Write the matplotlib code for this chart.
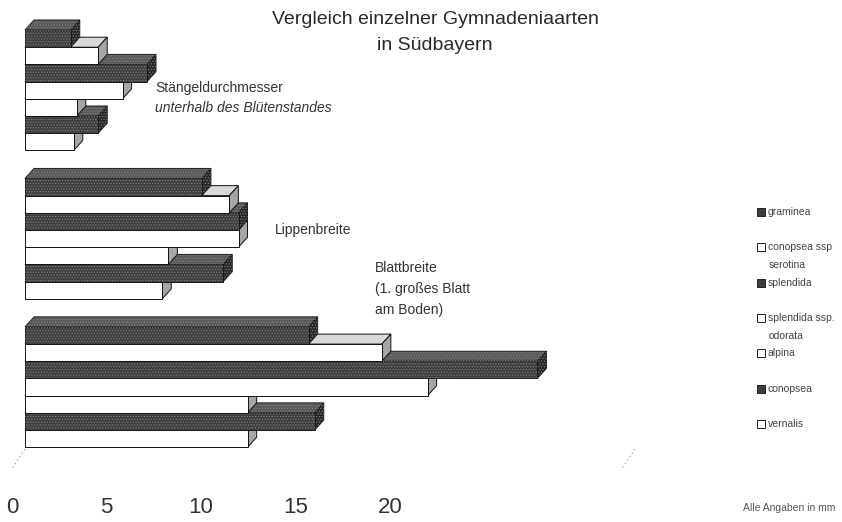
import matplotlib
matplotlib.use("Agg")
import matplotlib.pyplot as plt
from matplotlib.patches import Polygon, Rectangle

# ---- data (mm)
categories = ["Stängeldurchmesser", "Lippenbreite", "Blattbreite"]
species = ["graminea", "conopsea ssp\nserotina", "splendida",
           "splendida ssp.\nodorata", "alpina", "conopsea", "vernalis"]
dark = [True, False, True, False, False, True, False]
stem_diam = [1.5, 2.4, 4.0, 3.2, 1.7, 2.4, 1.6]
lip_width = [5.8, 6.7, 7.0, 7.0, 4.7, 6.5, 4.5]
leaf_width = [9.3, 11.7, 16.8, 13.2, 7.3, 9.5, 7.3]
tick_values = [0, 5, 10, 15, 20]

W, H = 842, 522
plt.rcParams['font.family'] = ['Liberation Sans', 'DejaVu Sans']
plt.rcParams['hatch.linewidth'] = 0.6
fig = plt.figure(figsize=(W / 100, H / 100), dpi=100)

# main plotting area: x 0..20 mm, y in "bar heights", inverted
ax = fig.add_axes([25 / W, (H - 468.6) / H, 610 / W, 455.8 / H])
ax.set_xlim(0, 20)
ax.set_ylim(25.5, -1)
ax.axis("off")

px_x = 610 / 20.0   # pixels per mm
px_y = 455.8 / 26.5  # pixels per bar unit
ddx = 9 / px_x       # 3D depth offset
ddy = 10 / px_y
pitch = 8.63         # distance between groups (bar units)

styles = {
    True: dict(front="#3e3e3e", top="#5a5a5a", side="#262626",
               edge="#1a1a1a", hatch="#7c7c7c"),
    False: dict(front="#ffffff", top="#d9d9d9", side="#a6a6a6",
                edge="#111111", hatch=None),
}


def face(pts, fc, st, zo):
    ax.add_patch(Polygon(pts, closed=True, fc=fc, ec=st["edge"], lw=0.7,
                         zorder=zo, clip_on=False))
    if st["hatch"]:
        ax.add_patch(Polygon(pts, closed=True, fill=False, ec=st["hatch"],
                             lw=0, hatch="......", zorder=zo + 0.01,
                             clip_on=False))


z = 1
for g, vals in enumerate([stem_diam, lip_width, leaf_width]):
    for s in range(len(vals) - 1, -1, -1):
        v = vals[s]
        st = styles[dark[s]]
        y0 = g * pitch + s
        y1 = y0 + 1
        face([(0, y0), (v, y0), (v + ddx, y0 - ddy), (ddx, y0 - ddy)],
             st["top"], st, z)
        face([(v, y0), (v, y1), (v + ddx, y1 - ddy), (v + ddx, y0 - ddy)],
             st["side"], st, z)
        ax.barh(y0 + 0.5, v, height=1, left=0, color=st["front"],
                edgecolor=st["edge"], linewidth=0.7, zorder=z + 0.5,
                clip_on=False)
        if st["hatch"]:
            ax.barh(y0 + 0.5, v, height=1, left=0, fill=False,
                    edgecolor=st["hatch"], linewidth=0, hatch="......",
                    zorder=z + 0.51, clip_on=False)
        z += 1

# faint floor edges
ybase = 2 * pitch + 7
for xv in (0, 20):
    ax.plot([xv, xv - 0.45], [ybase + 0.1, ybase + 1.3],
            color="#999999", lw=0.6, ls=(0, (2, 3)), clip_on=False)

# category labels
lab_kw = dict(fontsize=10, color="#333333")
fig.text(155 / W, 1 - 88 / H, "Stängeldurchmesser", va="center", **lab_kw)
fig.text(155 / W, 1 - 108 / H, "unterhalb des Blütenstandes", va="center",
         style="italic", **lab_kw)
fig.text(275 / W, 1 - 230 / H, "Lippenbreite", va="center", **lab_kw)
fig.text(375 / W, 1 - 268 / H, "Blattbreite", va="center", **lab_kw)
fig.text(375 / W, 1 - 289 / H, "(1. großes Blatt", va="center", **lab_kw)
fig.text(375 / W, 1 - 310 / H, "am Boden)", va="center", **lab_kw)

# title
fig.text(435 / W, 1 - 19 / H, "Vergleich einzelner Gymnadeniaarten",
         ha="center", va="center", fontsize=14, color="#2a2a2a")
fig.text(435 / W, 1 - 46 / H, "in Südbayern",
         ha="center", va="center", fontsize=14, color="#2a2a2a")

# legend (drawn by hand to keep the scanned spacing)
for i, name in enumerate(species):
    yc = 212 + 35.3 * i
    st = styles[dark[i]]
    fig.patches.append(Rectangle((757 / W, 1 - (yc + 4) / H), 8 / W, 8 / H,
                                 transform=fig.transFigure, fc=st["front"],
                                 ec="#222222", lw=0.7))
    lines = name.split("\n")
    for k, line in enumerate(lines):
        fig.text((768 if k == 0 else 769) / W, 1 - (yc + 18 * k) / H, line,
                 va="center", fontsize=7.5, color="#444444")

# x tick labels as printed on the original (offset from the bars)
tax = fig.add_axes([12 / W, (H - 494) / H, 378 / W, 0.001])
tax.set_xlim(0, 20)
tax.set_xticks(tick_values)
tax.set_xticklabels([str(t) for t in tick_values])
tax.tick_params(axis="x", length=0, pad=2, labelsize=16, labelcolor="#333333")
for lbl in tax.get_xticklabels():
    lbl.set_fontweight("light")
tax.set_yticks([])
for sp in tax.spines.values():
    sp.set_visible(False)
tax.patch.set_visible(False)

fig.text(835 / W, 1 - 508 / H, "Alle Angaben in mm", ha="right", va="center",
         fontsize=7.5, color="#555555")

fig.savefig("out.png", dpi=100)
